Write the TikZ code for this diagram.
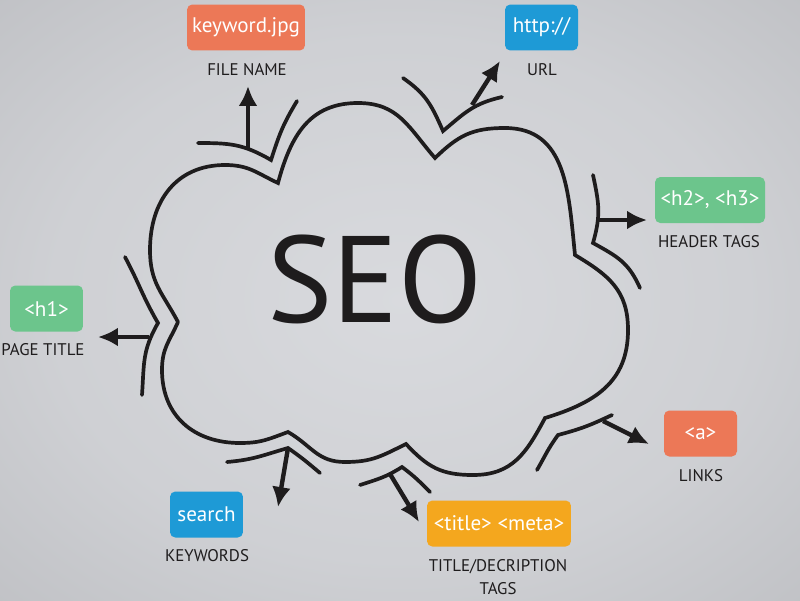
\documentclass[tikz,border=0pt]{standalone}
\usepackage{fontspec}
\setmainfont{PT Sans}
\usetikzlibrary{arrows.meta}

\definecolor{tagorange}{HTML}{EC7857}
\definecolor{tagblue}{HTML}{1E9AD6}
\definecolor{taggreen}{HTML}{6CC58C}
\definecolor{tagyellow}{HTML}{F4A71E}
\definecolor{ink}{HTML}{1E1C1D}

\pgfdeclareradialshading{backdrop}{\pgfpoint{0bp}{0bp}}{%
  rgb(0bp)=(0.85,0.855,0.87); rgb(22bp)=(0.81,0.815,0.83);
  rgb(50bp)=(0.70,0.705,0.72); rgb(71bp)=(0.63,0.635,0.65)}

\begin{document}
\begin{tikzpicture}[x=0.02cm,y=0.02cm,
    cloud/.style={line width=2.1pt,ink,line cap=round,looseness=1.1},
    pointer/.style={line width=2.5pt,ink,-{Latex[length=4mm,width=3.8mm]}},
    tag/.style={rounded corners=3pt,text=white,inner sep=0pt,
        font=\fontsize{12}{14}\selectfont,minimum height=9.2mm},
    caption/.style={text=ink,inner sep=0pt,font=\fontsize{9.6}{11.5}\selectfont}]

    \useasboundingbox (0,0) rectangle (800,600);
    \shade[shading=backdrop] (0,0) rectangle (800,600);

    % the cloud
    \draw [cloud] (178,278)
        to[out=118,in=270] (150,350)
        to[out=90,in=180] (225,435)
        to[out=0,in=155] (278,417)
        to[out=75,in=180] (358,497)
        to[out=0,in=131] (435,442)
        to[out=44,in=180] (505,472)
        to[out=0,in=96] (575,345)
        to[out=-31,in=90] (628,270)
        to[out=270,in=17] (545,182)
        to[out=242,in=0] (473,125)
        to[out=180,in=-47] (406,156)
        to[out=206,in=0] (345,138)
        to[out=180,in=-30] (288,168)
        to[out=200,in=0] (240,157)
        to[out=180,in=270] (162,230)
        to[out=90,in=246] (178,278);

    \node[font=\fontsize{70}{70}\selectfont,text=ink,inner sep=0pt] (seo) at (375,321) {SEO};

    % outer arcs
    \draw [cloud] (198,457) to[out=0,in=150] (271,440) to[out=72,in=239] (297,499);
    \draw [cloud] (403,522) to[out=-35,in=114] (443,469) to[out=40,in=193] (502,503);
    \draw [cloud] (593,425) to[out=-78,in=74] (593,357) to[out=-29,in=114] (640,312);
    \draw [cloud] (612,185) to[out=205,in=15] (558,165) to[out=234,in=60] (537,130);
    \draw [cloud] (360,115) to[out=18,in=212] (402,133) to[out=-37,in=135] (430,108);
    \draw [cloud] (227,138) to[out=5,in=196] (288,152) to[out=-35,in=140] (320,127);
    \draw [cloud] (125,343) to[out=-62,in=120] (158,277) to[out=240,in=86] (142,205);

    % tags
    \node[tag,fill=tagorange,minimum width=23.6mm] (file) at (246,572.5) {keyword.jpg};
    \node[caption] (filelbl) at (247,530) {FILE NAME};
    \node[tag,fill=tagblue,minimum width=14.6mm] (url) at (541.5,572.5) {http://};
    \node[caption] (urllbl) at (542,530) {URL};
    \node[tag,fill=taggreen,minimum width=22mm] (header) at (710,400) {<h2>, <h3>};
    \node[caption] (headerlbl) at (709,358) {HEADER TAGS};
    \node[tag,fill=taggreen,minimum width=14.6mm] (page) at (46.5,291.5) {<h1>};
    \node[caption] (pagelbl) at (43,250) {PAGE TITLE};
    \node[tag,fill=tagorange,minimum width=14.6mm] (links) at (700.5,166.5) {<a>};
    \node[caption] (linkslbl) at (701,124) {LINKS};
    \node[tag,fill=tagblue,minimum width=14.6mm] (keys) at (206.5,85.5) {search};
    \node[caption] (keyslbl) at (207,44) {KEYWORDS};
    \node[tag,fill=tagyellow,minimum width=28.8mm] (meta) at (499,76.5) {<title> <meta>};
    \node[caption,align=center] (metalbl) at (498,23) {TITLE/DECRIPTION\\[0.7mm]TAGS};

    % arrows
    \coordinate (filefoot) at (248,450);
    \coordinate (filetip) at (248,514);
    \coordinate (urlfoot) at (472,495);
    \coordinate (urltip) at (500,539);
    \coordinate (headerfoot) at (596,380);
    \coordinate (headertip) at (647,380);
    \coordinate (linksfoot) at (603,179);
    \coordinate (linkstip) at (649,156);
    \coordinate (metafoot) at (390,126);
    \coordinate (metatip) at (419,78);
    \coordinate (keysfoot) at (288,152);
    \coordinate (keystip) at (278,93);
    \coordinate (pagefoot) at (149,263);
    \coordinate (pagetip) at (98,263);

    \draw [pointer] (filefoot) -- (filetip);
    \draw [pointer] (urlfoot) -- (urltip);
    \draw [pointer] (headerfoot) -- (headertip);
    \draw [pointer] (linksfoot) -- (linkstip);
    \draw [pointer] (metafoot) -- (metatip);
    \draw [pointer] (keysfoot) -- (keystip);
    \draw [pointer] (pagefoot) -- (pagetip);
\end{tikzpicture}
\end{document}
